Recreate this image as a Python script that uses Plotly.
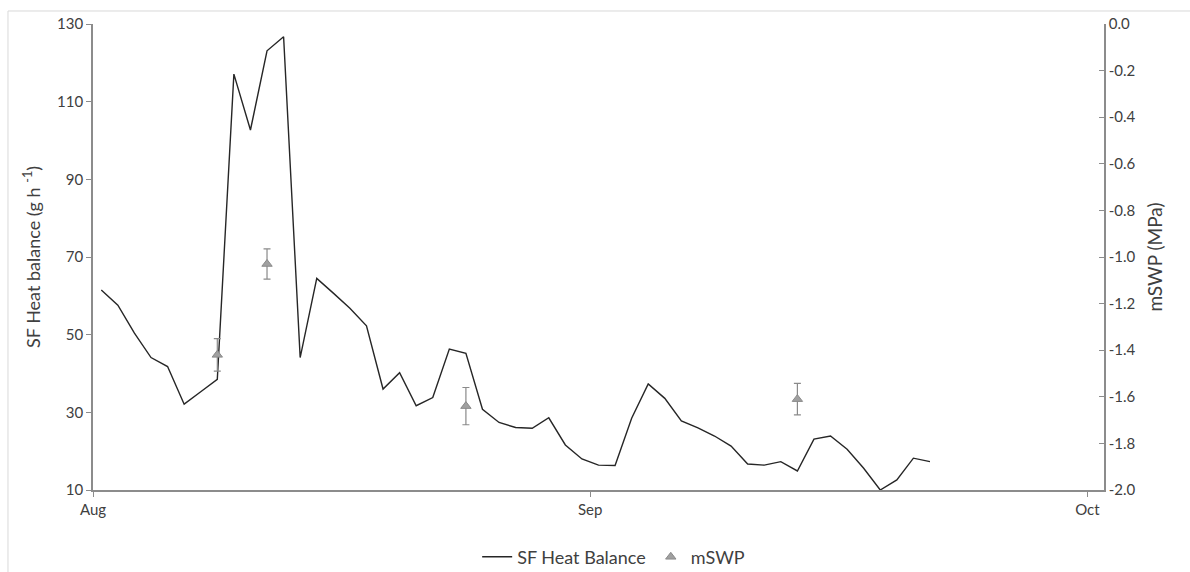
import pandas as pd
import plotly.graph_objects as go

# Daily sap flow (heat balance), starting 2 Aug
start_day = "2019-08-02"
sf_heat_balance = [
    61.5, 57.6, 50.4, 44.1, 41.8, 32.1, 35.3, 38.5, 117.1, 102.7,
    123.1, 126.7, 44.1, 64.5, 60.7, 56.8, 52.3, 36.0, 40.2, 31.7,
    33.8, 46.3, 45.2, 30.8, 27.4, 26.1, 25.9, 28.6, 21.6, 18.0,
    16.4, 16.3, 28.5, 37.3, 33.6, 27.8, 26.0, 23.9, 21.3, 16.7,
    16.4, 17.3, 14.9, 23.1, 23.9, 20.5, 15.6, 10.0, 12.6, 18.2,
    17.3,
]

# Midday stem water potential measurements
mswp_dates = ["2019-08-09", "2019-08-12", "2019-08-24", "2019-09-13"]
mswp_values = [-1.42, -1.03, -1.64, -1.61]
mswp_err = [0.07, 0.065, 0.08, 0.068]

left_ticks = [10, 30, 50, 70, 90, 110, 130]
right_ticks = [-2.0, -1.8, -1.6, -1.4, -1.2, -1.0, -0.8, -0.6, -0.4, -0.2, 0.0]
month_ticks = ["2019-08-02", "2019-09-01", "2019-10-01"]
month_labels = ["Aug", "Sep", "Oct"]

# daily values sit at the middle of each day
sf_dates = pd.date_range(start_day, periods=len(sf_heat_balance), freq="D") + pd.Timedelta(hours=12)
mswp_x = pd.to_datetime(mswp_dates) + pd.Timedelta(hours=12)

FONT = "Lato, 'Open Sans', sans-serif"
TEXT = "#404040"
AXIS = "#8c8c8c"

fig = go.Figure()

fig.add_trace(go.Scatter(
    x=sf_dates, y=sf_heat_balance, mode="lines", name="SF Heat Balance",
    line=dict(color="#262626", width=1.4), yaxis="y",
))

fig.add_trace(go.Scatter(
    x=mswp_x, y=mswp_values, mode="markers", name="mSWP", yaxis="y2",
    marker=dict(symbol="triangle-up", size=9, color="#a0a0a0",
                line=dict(color="#8a8a8a", width=1)),
    error_y=dict(type="data", array=mswp_err, visible=True,
                 color="#8a8a8a", thickness=1.2, width=3.5),
))

fig.update_layout(
    width=1190, height=572,
    margin=dict(l=93, r=86, t=24, b=82, autoexpand=False),
    paper_bgcolor="white", plot_bgcolor="white",
    font=dict(family=FONT, color=TEXT, size=14),
    showlegend=True,
    legend=dict(orientation="h", x=0.515, xanchor="center", y=-0.144, yanchor="middle",
                font=dict(size=18, color=TEXT), itemwidth=30,
                bgcolor="rgba(0,0,0,0)"),
    xaxis=dict(
        type="date",
        range=["2019-08-02", "2019-10-02"],
        tickvals=month_ticks, ticktext=month_labels,
        showgrid=False, zeroline=False,
        showline=True, linecolor=AXIS, linewidth=1.6,
        ticks="outside", ticklen=5, tickcolor=AXIS, tickwidth=1.2,
        tickfont=dict(size=15, color=TEXT),
    ),
    yaxis=dict(
        range=[10, 130], tickvals=left_ticks,
        showgrid=False, zeroline=False,
        showline=True, linecolor=AXIS, linewidth=1.6,
        ticks="outside", ticklen=5, tickcolor=AXIS, tickwidth=1.2,
        tickfont=dict(size=15, color=TEXT),
        title=dict(text="SF Heat balance (g h <sup>-1</sup>)", font=dict(size=18, color=TEXT), standoff=12),
    ),
    yaxis2=dict(
        range=[-2.0, 0.0], overlaying="y", side="right",
        tickvals=right_ticks, ticktext=[f"{v:.1f}" for v in right_ticks],
        showgrid=False, zeroline=False,
        showline=True, linecolor=AXIS, linewidth=1.6,
        ticks="inside", ticklen=5, tickcolor=AXIS, tickwidth=1.2,
        tickfont=dict(size=15, color=TEXT),
        title=dict(text="mSWP (MPa)", font=dict(size=19, color=TEXT), standoff=14),
    ),
    shapes=[dict(
        type="rect", xref="paper", yref="paper",
        x0=-0.0841, x1=1.2, y0=-0.4, y1=1.0279,
        line=dict(color="#d9d9d9", width=1), fillcolor="rgba(0,0,0,0)", layer="below",
    )],
)

fig.write_html("out.html")
